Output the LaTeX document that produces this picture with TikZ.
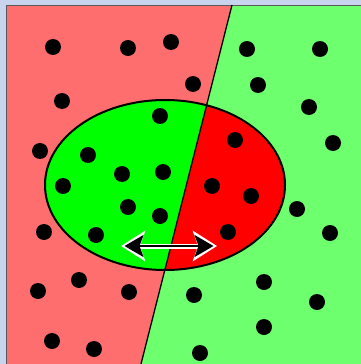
\documentclass[tikz,border=0pt]{standalone}
\usetikzlibrary{arrows.meta}
\definecolor{bordblue}{RGB}{200,212,238}
\definecolor{lred}{RGB}{255,110,110}
\definecolor{lgreen}{RGB}{110,255,110}
\definecolor{bgreen}{RGB}{0,255,0}
\definecolor{bred}{RGB}{255,0,0}
\tikzset{
  dot/.style={fill=black},
}
\begin{document}
\begin{tikzpicture}[x=1pt,y=-1pt]
\useasboundingbox (0,0) rectangle (361,364);
\fill[bordblue] (0,0) rectangle (361,364);
% regions
\fill[lred] (6,5) -- (232,5) -- (141,364) -- (6,364) -- cycle;
\fill[lgreen] (232,5) -- (361,5) -- (361,364) -- (141,364) -- cycle;
\draw[gray!70!black,line width=0.8pt] (6.4,364) -- (6.4,5.4) -- (361,5.4);
\begin{scope}
  \clip (6,5) -- (232,5) -- (141,364) -- (6,364) -- cycle;
  \fill[bgreen] (165,185) ellipse [x radius=120, y radius=85];
\end{scope}
\begin{scope}
  \clip (232,5) -- (361,5) -- (361,364) -- (141,364) -- cycle;
  \fill[bred] (165,185) ellipse [x radius=120, y radius=85];
\end{scope}
\draw[line width=1.3pt] (232,5) -- (141,364);
\draw[line width=2pt] (165,185) ellipse [x radius=120, y radius=85];
% dots
\foreach \p in {(53,47),(128,48),(171,42),(62,101),(193,84),(40,151),(44,232),
  (38,291),(79,280),(129,292),(52,341),(94,349),
  (247,49),(320,49),(258,85),(309,107),(333,143),(297,209),(330,233),
  (264,282),(317,302),(194,295),(264,327),(200,353),
  (160,116),(88,155),(63,186),(122,174),(163,172),(128,207),(160,216),(96,235),
  (235,140),(212,186),(251,196),(228,232)}
  \fill[dot] \p circle (8);
% arrow
\coordinate (aL) at (123,246);
\coordinate (aR) at (215,246);
\draw[white,line width=5pt,{Stealth[length=24pt,width=30pt,inset=5pt]}-{Stealth[length=24pt,width=30pt,inset=5pt]},shorten <=-2pt,shorten >=-2pt] (aL) -- (aR);
\draw[black,line width=2pt,{Stealth[length=19pt,width=22pt,inset=4pt]}-{Stealth[length=19pt,width=22pt,inset=4pt]},shorten <=1.5pt,shorten >=1.5pt] (aL) -- (aR);
\end{tikzpicture}
\end{document}
